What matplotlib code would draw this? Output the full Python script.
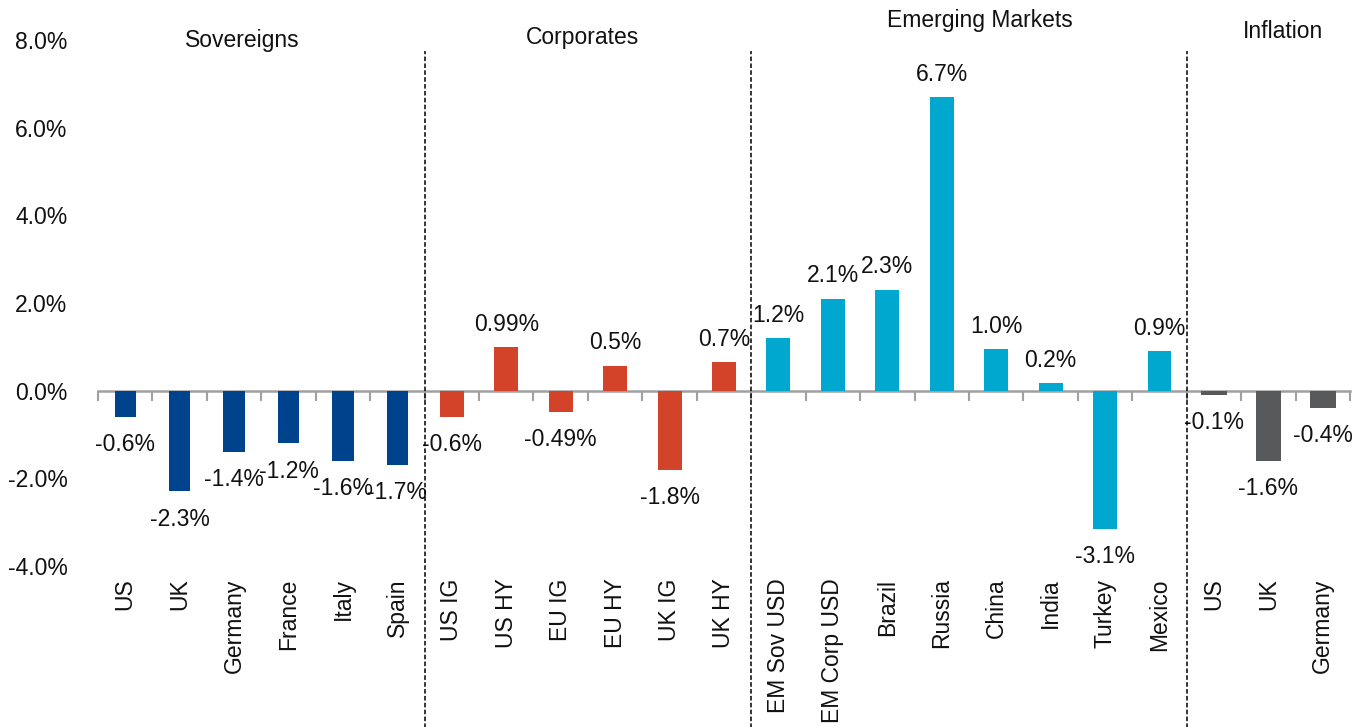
import matplotlib
matplotlib.use("Agg")
import matplotlib.pyplot as plt
import numpy as np

plt.rcParams['font.family'] = ['Liberation Sans', 'DejaVu Sans']

# ---- data ----
sov_names = ["US", "UK", "Germany", "France", "Italy", "Spain"]
sov_vals = [-0.6, -2.3, -1.4, -1.2, -1.6, -1.7]
sov_labels = ["-0.6%", "-2.3%", "-1.4%", "-1.2%", "-1.6%", "-1.7%"]

corp_names = ["US IG", "US HY", "EU IG", "EU HY", "UK IG", "UK HY"]
corp_vals = [-0.6, 0.99, -0.49, 0.57, -1.8, 0.65]
corp_labels = ["-0.6%", "0.99%", "-0.49%", "0.5%", "-1.8%", "0.7%"]

em_names = ["EM Sov USD", "EM Corp USD", "Brazil", "Russia", "China", "India", "Turkey", "Mexico"]
em_vals = [1.2, 2.1, 2.3, 6.7, 0.95, 0.17, -3.15, 0.9]
em_labels = ["1.2%", "2.1%", "2.3%", "6.7%", "1.0%", "0.2%", "-3.1%", "0.9%"]

inf_names = ["US", "UK", "Germany"]
inf_vals = [-0.1, -1.6, -0.4]
inf_labels = ["-0.1%", "-1.6%", "-0.4%"]

group_titles = ["Sovereigns", "Corporates", "Emerging Markets", "Inflation"]
yticks = [-4, -2, 0, 2, 4, 6, 8]

groups = [
    (sov_names, sov_vals, sov_labels, "#00438D", 0.39),
    (corp_names, corp_vals, corp_labels, "#D2432A", 0.44),
    (em_names, em_vals, em_labels, "#00A8CF", 0.44),
    (inf_names, inf_vals, inf_labels, "#58595B", 0.47),
]

fig = plt.figure(figsize=(13.68, 7.27), dpi=100)
ax = fig.add_axes([98 / 1368, 1 - 566 / 727, (1350 - 98) / 1368, (566 - 40) / 727])

FS = 16.5
TXT = "#111111"
all_names = []
start = 0
bounds = []
title_pos = []
for names, vals, labels, color, w in groups:
    x = np.arange(start, start + len(names))
    ax.bar(x, vals, width=w, color=color, zorder=3)
    for xi, v, lab in zip(x, vals, labels):
        off = 16.5 if v >= 0 else -20
        ax.annotate(lab, (xi, v), xytext=(0, off), textcoords="offset points",
                    ha="center", va="center", fontsize=FS, color=TXT)
    all_names += names
    title_pos.append((start + len(names) / 2 - 0.5))
    start += len(names)
    bounds.append(start - 0.5)

n = len(all_names)
ymin, ymax = yticks[0], yticks[-1]
ax.set_xlim(-0.5, n - 0.5)
ax.set_ylim(ymin, ymax)

# zero line with boundary ticks
zero_frac = (0 - ymin) / (ymax - ymin)
sec = ax.secondary_xaxis(zero_frac)
sec.set_xticks(np.arange(n + 1) - 0.5)
sec.tick_params(axis="x", length=7, width=1.5, color="#A0A0A0", labelbottom=False)
sec.spines["bottom"].set_color("#A0A0A0")
sec.spines["bottom"].set_linewidth(1.8)
sec.set_zorder(2)
for s in ["top", "left", "right"]:
    sec.spines[s].set_visible(False)

ax.set_xticks(np.arange(n))
ax.set_xticklabels(all_names, rotation=90, fontsize=FS, va="top", ha="center", color=TXT)
ax.tick_params(axis="x", length=0, pad=9)
ax.set_yticks(yticks)
ax.set_yticklabels([f"{t:.1f}%" for t in yticks], fontsize=FS, color=TXT)
ax.tick_params(axis="y", length=0, pad=22)
for s in ax.spines.values():
    s.set_visible(False)

# dashed separators
for b in bounds[:-1]:
    ax.vlines(b, -7.7, 7.75, colors="black", linestyles=(0, (3, 1.5)),
              linewidth=1.1, clip_on=False, zorder=4)

# group titles
title_y = [8.0, 8.05, 8.45, 8.2]
title_dx = [-0.35, -0.1, 0.2, 0.27]
for t, xp, yp, dx in zip(group_titles, title_pos, title_y, title_dx):
    ax.text(xp + dx, yp, t, ha="center", va="center", fontsize=FS, color=TXT,
            clip_on=False)

fig.savefig("out.png", dpi=100)
